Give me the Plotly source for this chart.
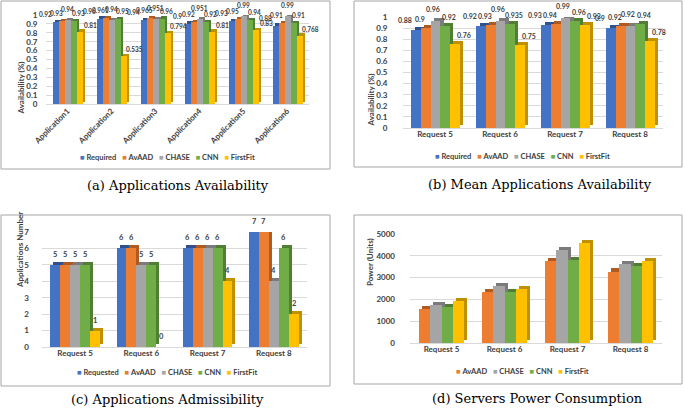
import plotly.graph_objects as go

W, H = 685, 411

# ---------------- data ----------------
apps = ["Application1", "Application2", "Application3", "Application4", "Application5", "Application6"]
requests = ["Request 5", "Request 6", "Request 7", "Request 8"]

# (a) Applications Availability
a_required = [0.92, 0.96, 0.94, 0.90, 0.93, 0.88]
a_avaad = [0.93, 0.961, 0.965, 0.92, 0.95, 0.91]
a_chase = [0.94, 0.94, 0.951, 0.951, 0.99, 0.99]
a_cnn = [0.93, 0.95, 0.96, 0.92, 0.94, 0.91]
a_firstfit = [0.81, 0.535, 0.794, 0.81, 0.83, 0.768]

# (b) Mean Applications Availability
b_required = [0.88, 0.92, 0.93, 0.90]
b_avaad = [0.90, 0.93, 0.94, 0.92]
b_chase = [0.96, 0.96, 0.99, 0.92]
b_cnn = [0.92, 0.935, 0.96, 0.94]
b_firstfit = [0.76, 0.75, 0.93, 0.78]

# (c) Applications Admissibility
c_requested = [5, 6, 6, 7]
c_avaad = [5, 6, 6, 7]
c_chase = [5, 5, 6, 4]
c_cnn = [5, 5, 6, 6]
c_firstfit = [1, 0, 4, 2]

# (d) Servers Power Consumption (no data labels)
d_avaad = [1560, 2320, 3770, 3280]
d_chase = [1750, 2600, 4270, 3620]
d_cnn = [1660, 2330, 3800, 3550]
d_firstfit = [1940, 2480, 4580, 3780]

# ---------------- style ----------------
COL = {"Required": "#4472C4", "Requested": "#4472C4", "AvAAD": "#ED7D31",
       "CHASE": "#A5A5A5", "CNN": "#70AD47", "FirstFit": "#FFC000"}
DARK = {"Required": "#2F528F", "Requested": "#2F528F", "AvAAD": "#AE5A21",
        "CHASE": "#7B7B7B", "CNN": "#507E32", "FirstFit": "#BF9000"}
FONT = "Lato"
CAPFONT = "DejaVu Serif"

# label nudges (pixels) per series position: (xshift, yshift)
NUDGE_A = [(-10, 2), (-5, 2), (0, 5), (5, 2), (11, 1)]
NUDGE_B = [(-11, 4), (-5, 3), (-2, 6), (4, 3), (10, 3)]


def fx(p):
    return p / W


def fy(p):
    return 1 - p / H


panels = [
    dict(cats=apps, series=[("Required", a_required), ("AvAAD", a_avaad), ("CHASE", a_chase),
                             ("CNN", a_cnn), ("FirstFit", a_firstfit)],
         xd=(45.5, 309), yd=(104, 15), yr=(0, 1), dtick=0.1, w=0.137, sx=0.055, dy=0.028,
         ytitle="Availability (%)", ytx=13, yty=60, labels=True, rot=-45, nudge=NUDGE_A, fs=6.5,
         box=(1, 1, 330, 169), leg_x=167, leg_y=157, cap="(a) Applications Availability",
         cap_x=178, cap_y=185, standoff=7),
    dict(cats=requests, series=[("Required", b_required), ("AvAAD", b_avaad), ("CHASE", b_chase),
                                 ("CNN", b_cnn), ("FirstFit", b_firstfit)],
         xd=(402.5, 662.5), yd=(128, 17), yr=(0, 1), dtick=0.1, w=0.148, sx=0.05, dy=0.027,
         ytitle="Availability (%)", ytx=370, yty=72, labels=True, rot=0, nudge=NUDGE_B, fs=7,
         box=(354, 1, 682, 167), leg_x=522, leg_y=156, cap="(b) Mean Applications Availability",
         cap_x=540, cap_y=184, standoff=14),
    dict(cats=requests, series=[("Requested", c_requested), ("AvAAD", c_avaad), ("CHASE", c_chase),
                                 ("CNN", c_cnn), ("FirstFit", c_firstfit)],
         xd=(42, 307), yd=(347, 232), yr=(0, 7), dtick=1, w=0.15, sx=0.045, dy=0.18,
         ytitle="Applications Number", ytx=13, yty=290, labels=True, rot=0,
         nudge=[(0, 4)] * 5, fs=7.5,
         box=(1, 215, 330, 386), leg_x=167, leg_y=372, cap="(c) Applications Admissibility",
         cap_x=167, cap_y=399, standoff=12),
    dict(cats=requests, series=[("AvAAD", d_avaad), ("CHASE", d_chase), ("CNN", d_cnn),
                                 ("FirstFit", d_firstfit)],
         xd=(410, 662), yd=(343, 234), yr=(0, 5000), dtick=1000, w=0.18, sx=0.048, dy=138,
         ytitle="Power (Units)", ytx=370, yty=288, labels=False, rot=0, nudge=None, fs=7,
         box=(354, 215, 682, 384), leg_x=522, leg_y=371, cap="(d) Servers Power Consumption",
         cap_x=537, cap_y=398, standoff=14),
]

fig = go.Figure()
shapes, annots = [], []
layout = {}

for k, p in enumerate(panels, start=1):
    xa = "x" if k == 1 else f"x{k}"
    ya = "y" if k == 1 else f"y{k}"
    idx = list(range(len(p["cats"])))
    n = len(p["series"])
    w = p["w"]
    G = n * w
    # shadows (3D depth) first
    for i, (name, vals) in enumerate(p["series"]):
        off = -G / 2 + i * w
        fig.add_trace(go.Bar(x=idx, y=vals, base=p["dy"], offset=off + p["sx"], width=w,
                             marker=dict(color=DARK[name], line=dict(width=0)),
                             xaxis=xa, yaxis=ya, showlegend=False, cliponaxis=False,
                             hoverinfo="skip"))
    for i, (name, vals) in enumerate(p["series"]):
        off = -G / 2 + i * w
        fig.add_trace(go.Bar(x=idx, y=vals, offset=off, width=w, name=name,
                             marker=dict(color=COL[name], line=dict(width=0)),
                             xaxis=xa, yaxis=ya, showlegend=False, cliponaxis=False))
        if p["labels"]:
            xs, ys = p["nudge"][i]
            for j, v in enumerate(vals):
                xc = j + off + w / 2
                annots.append(dict(x=xc, y=v, xref=xa, yref=ya, text=f"<b>{v:g}</b>",
                                   showarrow=False, xanchor="center", yanchor="bottom",
                                   xshift=xs, yshift=ys,
                                   font=dict(family=FONT, size=p["fs"], color="#404040")))

    x0, x1 = p["xd"]
    yb, yt = p["yd"]
    layout[("xaxis" if k == 1 else f"xaxis{k}")] = dict(
        domain=[fx(x0), fx(x1)], anchor=ya, range=[-0.5, len(idx) - 0.5],
        tickmode="array", tickvals=idx, ticktext=p["cats"], tickangle=p["rot"],
        showgrid=False, showline=False, zeroline=False, ticks="", automargin=False,
        tickfont=dict(family=FONT, size=8, color="#404040", weight="bold"))
    layout[("yaxis" if k == 1 else f"yaxis{k}")] = dict(
        domain=[fy(yb), fy(yt)], anchor=xa, range=list(p["yr"]), dtick=p["dtick"],
        showgrid=True, gridcolor="#D9D9D9", gridwidth=1, zeroline=True,
        zerolinecolor="#D9D9D9", zerolinewidth=1, showline=False, ticks="",
        ticklabelstandoff=p["standoff"], automargin=False,
        tickfont=dict(family=FONT, size=8, color="#404040", weight="bold"))

    bx0, by0, bx1, by1 = p["box"]
    shapes.append(dict(type="rect", xref="paper", yref="paper", x0=fx(bx0), x1=fx(bx1),
                       y0=fy(by1), y1=fy(by0), line=dict(color="#A6A6A6", width=1)))
    annots.append(dict(x=fx(p["ytx"]), y=fy(p["yty"]), xref="paper", yref="paper",
                       text=f"<b>{p['ytitle']}</b>", textangle=-90, showarrow=False,
                       font=dict(family=FONT, size=8, color="#404040")))
    leg = "&nbsp;&nbsp;&nbsp;".join(
        f"<span style='color:{COL[name]}'>■</span> <b>{name}</b>" for name, _ in p["series"])
    annots.append(dict(x=fx(p["leg_x"]), y=fy(p["leg_y"]), xref="paper", yref="paper",
                       text=leg, showarrow=False, xanchor="center", yanchor="middle",
                       font=dict(family=FONT, size=7.5, color="#404040")))
    annots.append(dict(x=fx(p["cap_x"]), y=fy(p["cap_y"]), xref="paper", yref="paper",
                       text=p["cap"], showarrow=False, xanchor="center", yanchor="middle",
                       font=dict(family=CAPFONT, size=13, color="#000000")))

fig.update_layout(
    width=W, height=H, margin=dict(l=0, r=0, t=0, b=0, autoexpand=False),
    paper_bgcolor="white", plot_bgcolor="white",
    barmode="overlay", bargap=0, showlegend=False,
    shapes=shapes, annotations=annots, **layout)

fig.write_html("out.html", config={"displayModeBar": False},
               post_script="document.body.style.margin='0';document.body.style.overflow='hidden';")
